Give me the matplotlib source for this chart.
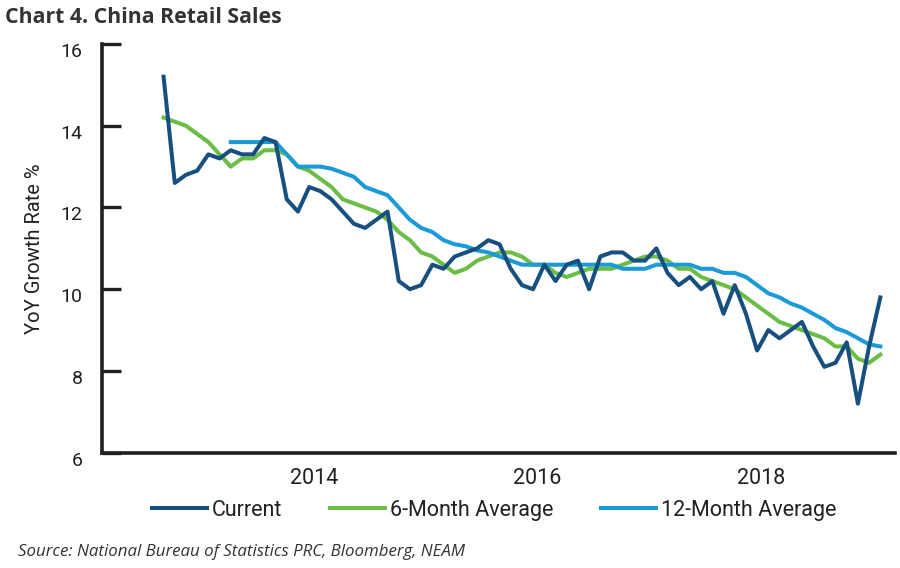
import numpy as np
import matplotlib
matplotlib.use("Agg")
import matplotlib.pyplot as plt
import matplotlib.transforms as mtransforms

# monthly readings, Dec 2012 .. Jun 2019 (Jan/Feb not reported)
current = [15.2,
           12.6, 12.8, 12.9, 13.3, 13.2, 13.4, 13.3, 13.3, 13.7, 13.6,
           12.2, 11.9, 12.5, 12.4, 12.2, 11.9, 11.6, 11.5, 11.7, 11.9,
           10.2, 10.0, 10.1, 10.6, 10.5, 10.8, 10.9, 11.0, 11.2, 11.1,
           10.5, 10.1, 10.0, 10.6, 10.2, 10.6, 10.7, 10.0, 10.8, 10.9,
           10.9, 10.7, 10.7, 11.0, 10.4, 10.1, 10.3, 10.0, 10.2, 9.4,
           10.1, 9.4, 8.5, 9.0, 8.8, 9.0, 9.2, 8.6, 8.1, 8.2,
           8.7, 7.2, 8.6, 9.8]

avg_6m = [14.2,
          14.1, 14.0, 13.8, 13.6, 13.3, 13.0, 13.2, 13.2, 13.4, 13.4,
          13.3, 13.0, 12.9, 12.7, 12.5, 12.2, 12.1, 12.0, 11.9, 11.7,
          11.4, 11.2, 10.9, 10.8, 10.6, 10.4, 10.5, 10.7, 10.8, 10.9,
          10.9, 10.8, 10.6, 10.6, 10.4, 10.3, 10.4, 10.5, 10.5, 10.5,
          10.6, 10.7, 10.8, 10.8, 10.7, 10.5, 10.5, 10.3, 10.2, 10.1,
          10.0, 9.8, 9.6, 9.4, 9.2, 9.1, 9.0, 8.9, 8.8, 8.6,
          8.6, 8.3, 8.2, 8.4]

avg_12m = [None, None, None, None, None, None, 13.6, 13.6, 13.6, 13.6, 13.6,
           13.3, 13.0, 13.0, 13.0, 12.95, 12.85, 12.75, 12.5, 12.4, 12.3,
           12.0, 11.7, 11.5, 11.4, 11.2, 11.1, 11.05, 10.95, 10.9, 10.8,
           10.7, 10.6, 10.6, 10.6, 10.6, 10.6, 10.6, 10.6, 10.6, 10.6,
           10.5, 10.5, 10.5, 10.6, 10.6, 10.6, 10.6, 10.5, 10.5, 10.4,
           10.4, 10.3, 10.1, 9.9, 9.8, 9.65, 9.55, 9.4, 9.25, 9.05,
           8.95, 8.8, 8.65, 8.6]

year_labels = ["2014", "2016", "2018"]
year_pos = [13.4, 33.4, 53.4]

text_col = "#231f20"
plt.rcParams['font.family'] = ['Roboto', 'DejaVu Sans']

fig = plt.figure(figsize=(9, 5.68), dpi=100)
ax = fig.add_axes([0.1133, 0.203, 0.881, 0.7195])

x = np.arange(len(current))
y12 = np.array([np.nan if v is None else v for v in avg_12m])

l1, = ax.plot(x, current, color="#17507f", lw=2.9, label="Current", zorder=3)
l2, = ax.plot(x, avg_6m, color="#6abd45", lw=2.9, label="6-Month Average", zorder=1)
l3, = ax.plot(x, y12, color="#1a9ad6", lw=2.9, label="12-Month Average", zorder=2)

ax.set_xlim(-5.5, 65.3)
ax.set_ylim(6, 16)
ax.set_yticks([6, 8, 10, 12, 14, 16])
ax.set_yticklabels(["6", "8", "10", "12", "14", "16"], fontsize=14, color=text_col)
ax.tick_params(axis="y", direction="in", length=14, width=2.4, color=text_col, pad=14)
# labels sit a little below their ticks
offset = mtransforms.ScaledTranslation(0, -0.06, fig.dpi_scale_trans)
for lab in ax.get_yticklabels():
    lab.set_transform(lab.get_transform() + offset)

ax.set_xticks(year_pos)
ax.set_xticklabels(year_labels, fontsize=15.5, color=text_col)
ax.tick_params(axis="x", length=0, pad=11)

for s in ["top", "right"]:
    ax.spines[s].set_visible(False)
for s in ["left", "bottom"]:
    ax.spines[s].set_linewidth(2.6)
    ax.spines[s].set_color(text_col)

ax.set_ylabel("YoY Growth Rate %", fontsize=14.5, color=text_col, labelpad=12)

fig.text(0.006, 0.97, "Chart 4. China Retail Sales", fontsize=15.3, fontweight="bold",
         family=["Open Sans", "DejaVu Sans"], color="#333333", va="center", ha="left")
fig.text(0.02, 0.028, "Source: National Bureau of Statistics PRC, Bloomberg, NEAM",
         fontsize=12.2, style="italic", family=["Open Sans", "DejaVu Sans"],
         color="#333333", va="center", ha="left")

fig.legend(handles=[l1, l2, l3], loc="center", bbox_to_anchor=(0.549, 0.102), ncol=3,
           frameon=False, fontsize=15.5, handlelength=2.55, handletextpad=0.25,
           columnspacing=2.2, labelcolor=text_col)

fig.savefig("out.png", dpi=100)
